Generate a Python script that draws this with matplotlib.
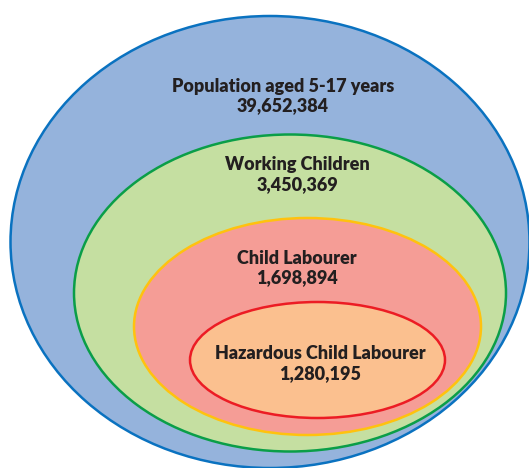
import matplotlib
matplotlib.use("Agg")
import matplotlib.pyplot as plt
from matplotlib.patches import Ellipse

# Data
labels = ["Population aged 5-17 years", "Working Children", "Child Labourer", "Hazardous Child Labourer"]
values = [39652384, 3450369, 1698894, 1280195]

# Layout (pixel geometry of nested ellipses: cx, cy, rx, ry)
geom = [(270, 242, 259.5, 226), (290, 293, 216, 158.5), (307.5, 326.5, 173.5, 108.5), (317.5, 360, 127.5, 58)]
text_pos = [(283, 96), (297, 174.5), (297, 268), (320, 363.5)]
fills = ["#95b3dc", "#c5dfa1", "#f59d96", "#fbc08f"]
edges = ["#0a72c0", "#0a9e48", "#ffc20e", "#ec1c24"]

fig = plt.figure(figsize=(5.29, 4.68), dpi=100)
ax = fig.add_axes([0, 0, 1, 1])
ax.set_xlim(0, 529)
ax.set_ylim(468, 0)
ax.axis("off")

for (cx, cy, rx, ry), fc, ec in zip(geom, fills, edges):
    ax.add_patch(Ellipse((cx, cy), 2 * rx, 2 * ry, facecolor=fc, edgecolor=ec, linewidth=1.8))

for lab, val, (tx, ty) in zip(labels, values, text_pos):
    ax.text(tx, ty, f"{lab}\n{val:,}", ha="center", va="center", fontsize=13,
            fontweight="heavy", family="Lato", color="#231f20", linespacing=1.2)

fig.savefig("out.png", dpi=100)
